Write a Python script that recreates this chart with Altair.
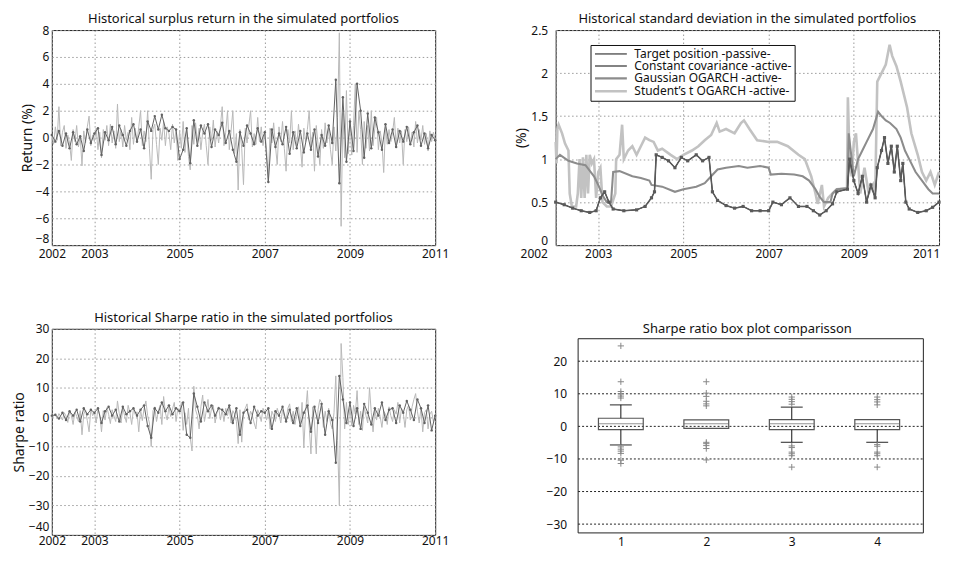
import altair as alt
import pandas as pd

FONT = "Noto Sans"

# ---------------- Panel 1: surplus return (%), light series sampled 24/yr, dark 12/yr
ret_light = [
    0.3, -0.5, 0.8, -0.2, 2.3, -0.6, 0.4, 0.9, -0.8, 0.2, -0.4, -1.7, 0.6, -0.3, 0.9, -0.7, 0.1, -2.1, 0.5, -0.4, 0.8, 1.6, -0.6, 0.2,
    -0.3, 0.7, -0.9, 0.4, -1.5, 0.6, -0.2, 0.9, -0.6, 1.0, -0.4, 0.5, -0.8, 2.5, -0.3, 0.6, -0.7, 0.9, -0.2, 0.4, -0.9, 1.5, -0.5, 0.7,
    -0.4, 0.8, 2.0, -0.6, 0.5, -0.3, 2.0, -0.8, -3.1, 0.6, 1.0, -0.5, -2.0, 0.7, -0.2, 1.2, -0.6, 0.8, 0.3, -0.9, 1.0, -0.4, 0.6, -1.7,
    0.5, -0.8, 1.2, -1.1, 0.6, -1.4, -2.4, 0.9, -0.5, 1.1, -0.3, 0.7, -0.9, 0.4, 1.0, -0.6, -2.0, 0.8, -0.2, 1.3, -0.7, 0.5, -0.4, 0.9,
    2.3, -0.6, 0.4, 2.0, -0.9, 0.5, 2.0, -1.2, 0.3, -3.9, 0.6, -0.8, -3.5, 0.7, -0.4, 0.9, 2.0, -0.7, 0.3, -0.5, 1.5, -0.3, 0.8, -0.6,
    0.5, -0.9, -3.3, 0.7, -0.4, 1.1, -0.6, -2.0, 0.8, -0.3, 1.2, -0.8, -2.5, 0.6, -0.4, 2.0, -0.9, 0.5, -0.6, 1.0, -0.5, -2.2, 0.7, -0.3,
    0.6, 2.0, -0.7, 0.4, -2.5, 0.9, -0.5, -2.0, 0.6, -0.8, 1.1, -0.4, 0.7, -0.9, -2.0, 0.8, -1.0, 1.5, 7.8, -6.6, 1.8, -1.5, 3.5, -1.2,
    1.4, -1.3, 0.9, 4.0, -1.1, 2.0, 0.6, -2.0, 1.2, -0.8, 0.9, -1.0, 2.0, -0.6, 0.7, 1.5, -0.9, 0.5, -0.4, -2.6, 0.8, -0.5, 0.6, -0.3,
    0.4, 1.5, -0.6, 0.7, -0.4, 0.5, -2.0, 0.6, -0.3, 0.8, -0.5, 0.4, -0.7, 1.2, -0.4, 0.6, -0.2, 0.9, -0.5, 0.3, -1.0, 0.5, -0.3, 0.4,
    -0.2,
]
ret_dark = [
    0.2, -0.3, 0.5, -0.6, 0.3, -0.8, 0.4, -0.5, 0.1, -1.0, 0.6, -0.4,
    0.3, 0.7, -1.3, 0.4, -0.2, 0.8, -0.5, 0.9, 0.2, -0.6, 0.5, 1.0,
    -0.3, 0.6, -0.8, 1.2, 0.5, 1.6, 0.6, 1.7, 0.7, 0.5, 0.8, 0.6,
    -1.6, -0.9, 0.7, -1.9, 1.3, -0.6, 0.9, 0.3, 1.0, -0.7, 0.6, 0.2,
    1.1, -0.4, 0.5, -0.9, -1.8, 0.4, -0.6, 0.9, 0.3, -0.5, 0.7, -0.3,
    0.4, -3.3, 0.6, -0.7, 0.3, -0.5, 0.8, -1.2, 0.4, -0.8, 0.5, -1.1,
    0.3, -0.9, 0.6, -1.4, 0.2, -0.6, 0.9, -0.4, 4.3, -3.4, 3.0, -1.8,
    1.2, -1.0, 4.0, 2.0, -1.5, 1.8, -0.8, 1.5, 0.4, -0.9, 1.0, -0.4,
    0.6, -0.7, 0.5, -0.3, 0.8, -0.5, 0.4, 0.9, -0.6, 0.3, -0.8, 0.2,
    -0.2,
]

# ---------------- Panel 3: Sharpe ratio
sharpe_light = [
    0.5, 0.3, 0.8, -0.5, 1.2, 0.2, -1.0, 1.5, 0.4, -1.8, 2.0, 0.6, -2.5, 1.8, 0.3, -1.5, 2.2, -6.0, 1.0, 2.5, -1.2, -5.0, 2.8, 0.5,
    1.5, -2.0, 3.0, 0.8, -5.0, 2.2, -1.0, 3.2, 1.0, -2.2, 2.5, 0.4, -1.5, 5.5, 1.2, -2.0, 3.0, 0.5, -1.8, 4.0, 1.5, -2.5, 2.8, 0.9,
    1.8, -5.0, 2.5, -1.2, 3.0, 5.5, 0.5, -2.0, -10.0, 2.2, 3.5, -1.5, 2.0, 4.0, -2.5, 7.0, 1.5, -1.0, 3.5, 0.2, 2.8, 5.0, -1.5, 3.0,
    2.0, 5.0, -4.5, 1.5, -2.5, 3.0, -7.0, -11.5, 10.5, 2.5, 0.5, -4.0, 3.5, 7.5, -1.5, 2.0, 6.0, -0.5, 3.0, 4.0, -2.0, 1.5, 3.5, -1.0,
    2.5, -1.5, 3.0, 0.5, 3.5, -2.0, 2.2, 1.0, -1.5, -9.0, 2.5, -8.5, 1.5, 3.0, 4.5, -1.0, 2.0, 0.5, -2.0, -4.0, 2.5, 1.0, -1.5, 3.0,
    1.5, -1.0, 2.5, -4.0, 2.0, 0.5, -1.5, 3.0, 1.0, -2.0, 2.5, 0.2, -1.2, 3.0, 4.5, -1.5, 2.0, -2.5, 1.0, 3.5, -3.0, 5.0, -10.5, 2.0,
    9.0, -3.0, -12.5, 3.5, -2.0, -12.5, 2.5, 6.0, 5.0, -3.5, 2.0, -1.5, 3.0, -2.0, -4.0, 1.5, 14.0, -8.0, -30.0, 25.0, 13.5, -4.0, 5.0, -2.5,
    3.0, -3.0, 4.0, 1.0, 9.0, -2.5, 2.0, -4.5, 3.5, 0.5, -2.0, 10.0, 1.5, -5.0, 2.5, -1.0, 3.0, 0.2, -3.5, 2.0, 1.0, -2.5, 3.5, 0.5,
    -1.5, 2.5, 1.0, 5.0, -2.0, 3.0, 1.5, -3.5, 2.5, 4.0, -1.0, 3.5, 6.0, 8.0, 2.0, -2.0, 3.0, -5.0, 1.5, 2.5, -4.0, 1.0, 2.0, -1.5,
    0.5,
]
sharpe_dark = [
    0.5, 0.8, -0.5, 1.5, -1.0, 2.0, 0.5, 2.5, -1.5, 3.0, 1.0, 2.5,
    1.5, 3.0, -2.0, 2.0, 3.5, 0.5, 2.5, -1.5, 3.5, 1.0, 2.0, 3.0,
    0.5, 2.5, 4.0, -3.0, -7.0, 3.0, 1.5, 5.0, 2.0, 4.0, 1.0, 3.0,
    2.0, 5.0, -6.0, -7.0, 8.0, 3.5, -1.5, 5.0, 2.0, 4.0, 0.5, 3.0,
    2.5, 1.0, 4.0, -2.0, 3.0, -6.0, 1.5, 2.5, -2.0, 3.5, 0.5, 2.0,
    1.5, 3.0, -4.0, 2.0, 0.5, 3.5, -1.5, 2.5, -2.0, 3.0, -3.0, 1.5,
    4.0, -5.0, 3.5, -2.0, 4.5, -6.0, 2.0, -1.0, -15.5, 14.0, 6.0, -2.0,
    5.0, -3.0, 3.0, -4.0, 4.5, 1.5, -2.5, 3.0, 0.5, 5.0, -1.0, 2.5,
    3.0, -2.0, 4.0, 1.5, 5.5, 2.5, -1.0, 6.0, 3.0, -2.0, 4.0, -4.5,
    0.5,
]

# ---------------- Panel 2: standard deviation (%)
sd_cc_year = [2002.0, 2002.2, 2002.4, 2002.6, 2002.8, 2002.95, 2003.05, 2003.15, 2003.25, 2003.35, 2003.6, 2003.9,
              2004.1, 2004.25, 2004.32, 2004.36, 2004.5, 2004.65, 2004.8, 2004.95, 2005.1, 2005.3, 2005.45, 2005.6,
              2005.68, 2005.8, 2006.0, 2006.2, 2006.4, 2006.6, 2006.8, 2007.0, 2007.1, 2007.3, 2007.5, 2007.7,
              2007.9, 2008.05, 2008.2, 2008.35, 2008.5, 2008.6, 2008.85, 2008.9, 2009.0, 2009.1, 2009.2, 2009.3,
              2009.4, 2009.5, 2009.55, 2009.65, 2009.72, 2009.8, 2009.88, 2009.95, 2010.02, 2010.1, 2010.15, 2010.22,
              2010.3, 2010.5, 2010.7, 2010.85, 2011.0]
sd_cc = [0.50, 0.47, 0.43, 0.40, 0.38, 0.40, 0.55, 0.62, 0.50, 0.42, 0.40, 0.41,
         0.45, 0.55, 0.62, 1.05, 1.02, 0.98, 0.90, 1.02, 0.98, 1.05, 0.98, 1.02,
         0.62, 0.52, 0.46, 0.43, 0.45, 0.40, 0.40, 0.40, 0.50, 0.47, 0.55, 0.45,
         0.45, 0.40, 0.35, 0.40, 0.48, 0.62, 0.65, 1.00, 0.75, 0.60, 0.80, 0.50,
         0.70, 0.55, 0.90, 1.10, 1.25, 0.95, 1.15, 0.85, 1.15, 0.75, 0.95, 0.50,
         0.42, 0.38, 0.40, 0.44, 0.50]
sd_g_year = [2002.0, 2002.1, 2002.3, 2002.5, 2002.7, 2002.9, 2003.0, 2003.1, 2003.2, 2003.3,
             2003.35, 2003.5, 2003.8, 2004.0, 2004.2, 2004.25, 2004.5, 2004.8, 2005.0, 2005.3,
             2005.5, 2005.65, 2005.8, 2006.0, 2006.3, 2006.5, 2006.8, 2007.0, 2007.05, 2007.3,
             2007.6, 2007.8, 2007.95, 2008.1, 2008.2, 2008.3, 2008.45, 2008.5, 2008.6, 2008.85,
             2008.88, 2008.95, 2009.0, 2009.1, 2009.2, 2009.3, 2009.45, 2009.57, 2009.65, 2009.75,
             2009.85, 2010.0, 2010.1, 2010.2, 2010.3, 2010.45, 2010.6, 2010.75, 2010.85, 2011.0]
sd_g = [1.00, 1.05, 0.98, 0.95, 0.93, 0.80, 0.70, 0.58, 0.50, 0.50,
        0.85, 0.86, 0.80, 0.78, 0.75, 0.70, 0.68, 0.62, 0.65, 0.68,
        0.72, 0.80, 0.88, 0.90, 0.92, 0.90, 0.92, 0.90, 0.82, 0.83,
        0.82, 0.80, 0.75, 0.65, 0.56, 0.50, 0.50, 0.60, 0.65, 0.66,
        1.30, 1.00, 0.80, 1.00, 1.10, 1.20, 1.35, 1.55, 1.50, 1.45,
        1.42, 1.35, 1.25, 1.10, 1.00, 0.85, 0.75, 0.65, 0.60, 0.60]
sd_s_year = [2002.0, 2002.02, 2002.04, 2002.07, 2002.15, 2002.22, 2002.3, 2002.33, 2002.38, 2002.48,
             2002.52, 2002.56, 2002.6, 2002.64, 2002.68, 2002.72, 2002.76, 2002.8, 2002.85, 2002.9,
             2002.95, 2003.0, 2003.05, 2003.1, 2003.2, 2003.3, 2003.4, 2003.42, 2003.5, 2003.56,
             2003.6, 2003.7, 2003.8, 2003.9, 2004.0, 2004.1, 2004.2, 2004.3, 2004.4, 2004.5,
             2004.7, 2004.85, 2005.0, 2005.2, 2005.35, 2005.5, 2005.65, 2005.78, 2005.85, 2006.0,
             2006.2, 2006.35, 2006.42, 2006.55, 2006.73, 2007.0, 2007.2, 2007.45, 2007.7, 2007.85,
             2008.0, 2008.1, 2008.15, 2008.25, 2008.3, 2008.4, 2008.5, 2008.6, 2008.84, 2008.86,
             2008.9, 2008.95, 2009.0, 2009.05, 2009.15, 2009.25, 2009.35, 2009.45, 2009.5, 2009.55,
             2009.65, 2009.75, 2009.84, 2009.9, 2010.0, 2010.1, 2010.25, 2010.35, 2010.5, 2010.6,
             2010.7, 2010.8, 2010.9, 2011.0]
sd_s = [1.20, 0.95, 1.35, 1.40, 1.30, 1.18, 1.10, 0.60, 0.45, 0.45,
        0.60, 1.00, 0.55, 1.02, 0.55, 1.05, 0.60, 1.05, 0.95, 1.00,
        0.55, 0.85, 0.90, 0.50, 0.45, 0.45, 0.60, 1.00, 1.05, 1.40,
        1.00, 1.10, 1.15, 1.05, 1.15, 1.25, 1.22, 1.20, 1.10, 1.12,
        1.05, 1.00, 1.05, 1.10, 1.15, 1.22, 1.28, 1.42, 1.32, 1.35,
        1.30, 1.42, 1.45, 1.35, 1.22, 1.20, 1.20, 1.15, 1.05, 1.00,
        0.80, 0.60, 0.48, 0.70, 0.45, 0.55, 0.60, 0.65, 0.66, 1.72,
        1.00, 0.80, 1.20, 1.30, 0.60, 0.90, 0.60, 0.70, 0.55, 1.90,
        2.00, 2.10, 2.33, 2.20, 2.08, 1.90, 1.60, 1.30, 1.05, 0.85,
        0.75, 0.85, 0.70, 0.85]
# the passive target position lies on top of the constant-covariance path
sd_t_year = sd_cc_year
sd_t = sd_cc

series_names = ["Target position -passive-", "Constant covariance -active-",
                "Gaussian OGARCH -active-", "Student\u2019s t OGARCH -active-"]
series_colors = ["#111111", "#5a5a5a", "#8c8c8c", "#c2c2c2"]
series_widths = [1.0, 2.6, 1.3, 1.3]

# ---------------- Panel 4: Sharpe ratio box plots
box_id = [1, 2, 3, 4]
box_q1 = [-1.0, -0.6, -1.0, -1.0]
box_q3 = [2.5, 2.0, 2.1, 2.1]
box_med = [0.8, 0.8, 0.8, 0.8]
whisk_hi_id = [1, 3]
whisk_hi = [6.6, 5.9]
whisk_lo_id = [1, 3, 4]
whisk_lo = [-5.7, -4.9, -4.9]
out_id = [1] * 12 + [2] * 11 + [3] * 10 + [4] * 10
out_val = [24.7, 13.7, 10.7, 10.0, 9.3, 8.7, -6.3, -7.0, -7.6, -8.3, -10.4, -11.4,
           13.7, 10.2, 9.2, 7.7, 6.9, 6.3, -4.9, -5.3, -5.9, -6.8, -10.3,
           9.0, 8.3, 7.6, 6.8, -6.0, -6.5, -7.9, -8.4, -9.0, -12.5,
           9.0, 8.2, 7.5, 6.6, -5.6, -6.1, -7.9, -8.4, -9.0, -12.5]
box_xlim = [0.5, 4.54]       # axes limits of the box-plot frame
box_ylim = [-32.7, 26.9]
box_yticks = [-30, -20, -10, 0, 10, 20]

# ====================================================================
W, H_TOP, H_BOT = 385, 216, 207
year_ticks = [2002, 2003, 2005, 2007, 2009, 2011]
xscale = alt.Scale(domain=[2002, 2011], nice=False, zero=False)


def xaxis(first_shift=0, last_shift=0, pad=3):
    return alt.Axis(values=year_ticks, format="d", grid=True, labelFlush=False,
                    labelPadding=pad, title=None,
                    labelOffset={"condition": [{"test": "datum.value === 2002", "value": first_shift},
                                               {"test": "datum.value === 2011", "value": last_shift}],
                                 "value": 0})


def ts_panel(light, dark, ydom, yvals, ytitle, title, tp, bottom_shift, xpad, height):
    dl = pd.DataFrame({"year": [2002 + i / 24 for i in range(len(light))], "v": light})
    dd = pd.DataFrame({"year": [2002 + i / 12 for i in range(len(dark))], "v": dark})
    yscale = alt.Scale(domain=ydom, nice=False, zero=False)
    yaxis = alt.Axis(values=yvals, title=ytitle, titlePadding=tp, labelPadding=3, grid=True,
                     labelOffset={"condition": {"test": "datum.value === %s" % ydom[0], "value": bottom_shift},
                                  "value": 0})
    l1 = alt.Chart(dl).mark_line(color="#b8b8b8", strokeWidth=1).encode(
        x=alt.X("year:Q", scale=xscale, axis=xaxis(pad=xpad)),
        y=alt.Y("v:Q", scale=yscale, axis=yaxis))
    l2 = alt.Chart(dd).mark_line(
        color="#626262", strokeWidth=1,
        point=alt.OverlayMarkDef(color="#626262", filled=True, size=6)).encode(
        x=alt.X("year:Q", scale=xscale, axis=xaxis(pad=xpad)),
        y=alt.Y("v:Q", scale=yscale, axis=yaxis))
    return alt.layer(l1, l2).properties(width=W, height=height,
                                        title=alt.TitleParams(title, offset=-2))


p1 = ts_panel(ret_light, ret_dark, [-8, 8], list(range(-8, 9, 2)), "Return (%)",
              "Historical surplus return in the simulated portfolios", 1, -7, 3, H_TOP)
p3 = ts_panel(sharpe_light, sharpe_dark, [-40, 30], list(range(-40, 31, 10)), "Sharpe ratio",
              "Historical Sharpe ratio in the simulated portfolios", 2, -8, 1, H_BOT)

# panel 2
rows = []
draw_order = [(3, sd_s_year, sd_s), (2, sd_g_year, sd_g), (0, sd_t_year, sd_t), (1, sd_cc_year, sd_cc)]
for k, ys, vs in draw_order:
    for y, v in zip(ys, vs):
        rows.append({"series": series_names[k], "year": y, "v": v, "k": k})
df2 = pd.DataFrame(rows)
df_cc = pd.DataFrame({"year": sd_cc_year, "v": sd_cc})

y2scale = alt.Scale(domain=[0, 2.5], nice=False, zero=False)
y2axis = alt.Axis(values=[0, 0.5, 1, 1.5, 2, 2.5], title="(%)", titlePadding=2, labelPadding=8, grid=True,
                  labelExpr="'' + datum.value",
                  labelOffset={"condition": {"test": "datum.value === 0", "value": -5}, "value": 0})
x2axis = xaxis(first_shift=-22, last_shift=-13)
lines2 = alt.Chart(df2).mark_line().encode(
    x=alt.X("year:Q", scale=xscale, axis=x2axis),
    y=alt.Y("v:Q", scale=y2scale, axis=y2axis),
    color=alt.Color("series:N", scale=alt.Scale(domain=series_names, range=series_colors),
                    legend=alt.Legend(title=None, orient="none", legendX=541, legendY=15,
                                      fillColor="white", strokeColor="#111", padding=3,
                                      labelFont=FONT, labelFontSize=12, labelColor="#111",
                                      symbolType="M-3.2,0L3.2,0", symbolSize=100,
                                      symbolStrokeWidth=2, symbolOffset=11,
                                      rowPadding=0, labelOffset=17, labelLimit=400)),
    strokeWidth=alt.StrokeWidth("series:N", scale=alt.Scale(domain=series_names, range=series_widths),
                                legend=None),
    detail="k:O",
)
pts2 = alt.Chart(df_cc).mark_point(shape="square", filled=True, size=10, color="#5a5a5a", opacity=1).encode(
    x=alt.X("year:Q", scale=xscale, axis=x2axis),
    y=alt.Y("v:Q", scale=y2scale, axis=y2axis))
p2 = alt.layer(lines2, pts2).properties(
    width=W, height=H_TOP,
    title=alt.TitleParams("Historical standard deviation in the simulated portfolios", offset=-2))

# panel 4 (drawn in a 385 x H_BOT cell; the frame sits at the axes limits inside it)
dbox = pd.DataFrame({"id": box_id, "q1": box_q1, "q3": box_q3, "med": box_med})
q3_of = dict(zip(box_id, box_q3))
q1_of = dict(zip(box_id, box_q1))
dhi = pd.DataFrame({"id": whisk_hi_id, "a": [q3_of[i] for i in whisk_hi_id], "b": whisk_hi})
dlo = pd.DataFrame({"id": whisk_lo_id, "a": [q1_of[i] for i in whisk_lo_id], "b": whisk_lo})
dout = pd.DataFrame({"id": out_id, "v": out_val})
dframe = pd.DataFrame({"x": [box_xlim[0]], "x2": [box_xlim[1]], "y": [box_ylim[0]], "y2": [box_ylim[1]]})
dgrid = pd.DataFrame({"y": box_yticks, "x": [box_xlim[0]] * len(box_yticks),
                      "x2": [box_xlim[1]] * len(box_yticks)})

x4 = alt.Scale(domain=[0.2955, 4.665], nice=False, zero=False)
y4 = alt.Scale(domain=[-33.31, 29.95], nice=False, zero=False)
x4axis = alt.Axis(values=[1, 2, 3, 4], format="d", grid=False, title=None, labelPadding=4, offset=-2)
y4axis = alt.Axis(values=box_yticks, title=None, grid=False, labelPadding=7, offset=-18)

grid4 = alt.Chart(dgrid).mark_rule(color="#222", strokeWidth=1, strokeDash=[2, 2]).encode(
    x=alt.X("x:Q", scale=x4, axis=x4axis), x2="x2:Q", y=alt.Y("y:Q", scale=y4, axis=y4axis))
frame4 = alt.Chart(dframe).mark_rect(fill="white", fillOpacity=0, stroke="#222", strokeWidth=1).encode(
    x=alt.X("x:Q", scale=x4, axis=x4axis), x2="x2:Q",
    y=alt.Y("y:Q", scale=y4, axis=y4axis), y2="y2:Q")
boxes = alt.Chart(dbox).mark_bar(size=45, fill="white", fillOpacity=0, stroke="#555", strokeWidth=1.2).encode(
    x=alt.X("id:Q", scale=x4, axis=x4axis),
    y=alt.Y("q1:Q", scale=y4, axis=y4axis), y2="q3:Q")
meds = alt.Chart(dbox).mark_tick(orient="horizontal", size=45, thickness=1, color="#666").encode(
    x=alt.X("id:Q", scale=x4, axis=x4axis), y=alt.Y("med:Q", scale=y4, axis=y4axis))
wh = alt.Chart(dhi).mark_rule(color="#111", strokeWidth=1).encode(
    x=alt.X("id:Q", scale=x4, axis=x4axis), y=alt.Y("a:Q", scale=y4, axis=y4axis), y2="b:Q")
wl = alt.Chart(dlo).mark_rule(color="#111", strokeWidth=1).encode(
    x=alt.X("id:Q", scale=x4, axis=x4axis), y=alt.Y("a:Q", scale=y4, axis=y4axis), y2="b:Q")
caph = alt.Chart(dhi).mark_tick(orient="horizontal", size=22, thickness=1.3, color="#111").encode(
    x=alt.X("id:Q", scale=x4, axis=x4axis), y=alt.Y("b:Q", scale=y4, axis=y4axis))
capl = alt.Chart(dlo).mark_tick(orient="horizontal", size=22, thickness=1.3, color="#111").encode(
    x=alt.X("id:Q", scale=x4, axis=x4axis), y=alt.Y("b:Q", scale=y4, axis=y4axis))
outs = alt.Chart(dout).mark_point(shape="M-1,0L1,0M0,-1L0,1", filled=False, size=40,
                                  color="#888", strokeWidth=1, opacity=1).encode(
    x=alt.X("id:Q", scale=x4, axis=x4axis), y=alt.Y("v:Q", scale=y4, axis=y4axis))
p4 = alt.layer(grid4, boxes, meds, wh, wl, caph, capl, outs, frame4).properties(
    width=W, height=H_BOT, view=alt.ViewBackground(stroke="transparent"),
    title=alt.TitleParams("Sharpe ratio box plot comparisson", offset=-7))

chart = alt.concat(
    p1, p2, p3, p4, columns=2, spacing={"row": 84, "column": 121}, bounds="flush"
).properties(
    padding={"left": 3, "top": 3, "right": 0, "bottom": 0}
).configure_view(
    stroke="#222", strokeWidth=1
).configure_axis(
    labelFont=FONT, labelFontSize=12, labelColor="#111",
    titleFont=FONT, titleFontSize=14, titleFontWeight="normal", titleColor="#111",
    ticks=False, domain=False,
    gridColor="#9a9a9a", gridDash=[1.5, 2.5], gridOpacity=1, gridWidth=1,
).configure_title(
    font=FONT, fontSize=13, fontWeight="normal", color="#111", anchor="middle"
)

chart.save("out.html", embed_options={"renderer": "svg", "actions": False})
